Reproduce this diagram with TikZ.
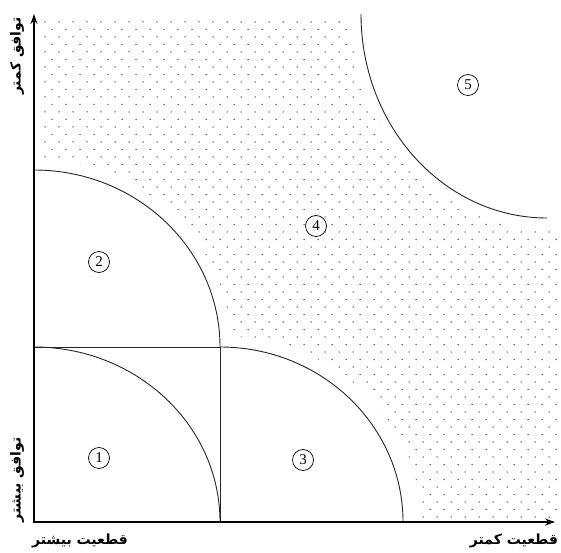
\documentclass[tikz,border=0pt]{standalone}
\usepackage{fontspec}
\setmainfont{Liberation Serif}
\newfontfamily\arabicfont[Script=Arabic]{DejaVu Sans}
\TeXXeTstate=1
\usetikzlibrary{arrows.meta}
\begin{document}
\begin{tikzpicture}[x=1pt,y=1pt,
  curve/.style={line width=0.9pt, black!85},
  axis/.style={line width=1.9pt, -{Stealth[length=10pt,width=7pt]}},
  num/.style={circle, draw, line width=0.7pt, fill=white, inner sep=0pt, minimum size=21pt, font=\fontsize{15}{15}\selectfont},
  lab/.style={font=\arabicfont\bfseries\fontsize{14}{14}\selectfont, inner sep=0pt}]
\useasboundingbox (0,0) rectangle (561,552);
% dotted area
\begin{scope}
  \clip (42,33) rectangle (559,533);
  \foreach \r in {0,...,66} {
    \pgfmathsetmacro\yy{35+7.5*\r}
    \pgfmathsetmacro\xo{45+7*mod(\r,2)}
    \foreach \k in {0,...,36} {
      \fill[black!70] ({\xo+14*\k},\yy) circle (0.75);
    }
  }
  \fill[white] (34,205) ellipse [x radius=197, y radius=188];
  \fill[white] (220,30) ellipse [x radius=201, y radius=186];
  \fill[white] (34,30) rectangle (222,207);
  \fill[white] (547,538) ellipse [x radius=196, y radius=214];
\end{scope}
% named points
\coordinate (O) at (34,30);
\coordinate (ytop) at (34,538);
\coordinate (xend) at (555,30);
\coordinate (m) at (34,205);
\coordinate (c) at (220,205);
\coordinate (cb) at (220,30);
\coordinate (t2) at (34,382);
\coordinate (t5) at (361,538);
% curves
\draw[curve] (m) -- (c) -- (cb);
\draw[curve] (m) arc [start angle=90, end angle=0, x radius=186, y radius=175];
\draw[curve] (t2) arc [start angle=90, end angle=0, x radius=186, y radius=177];
\draw[curve] (c) arc [start angle=90, end angle=0, x radius=183, y radius=175];
\draw[curve] (t5) arc [start angle=180, end angle=270, x radius=186, y radius=204];
% axes
\draw[axis] (O) -- (ytop);
\draw[axis] (O) -- (xend);
\fill (O) +(-0.95,-0.95) rectangle +(0.95,0.95);
% numbers
\node[num] (n1) at (99,94) {1};
\node[num] (n2) at (99,290) {2};
\node[num] (n3) at (303,92) {3};
\node[num] (n4) at (316,326) {4};
\node[num] (n5) at (468,467) {5};
% labels
\node[lab, rotate=90] (l1) at (17,496) {\beginR توافق کمتر\endR};
\node[lab, rotate=90] (l2) at (17,72) {\beginR توافق بیشتر\endR};
\node[lab] (l3) at (80,11) {\beginR قطعیت بیشتر\endR};
\node[lab] (l4) at (514,11) {\beginR قطعیت کمتر\endR};
\end{tikzpicture}
\end{document}
